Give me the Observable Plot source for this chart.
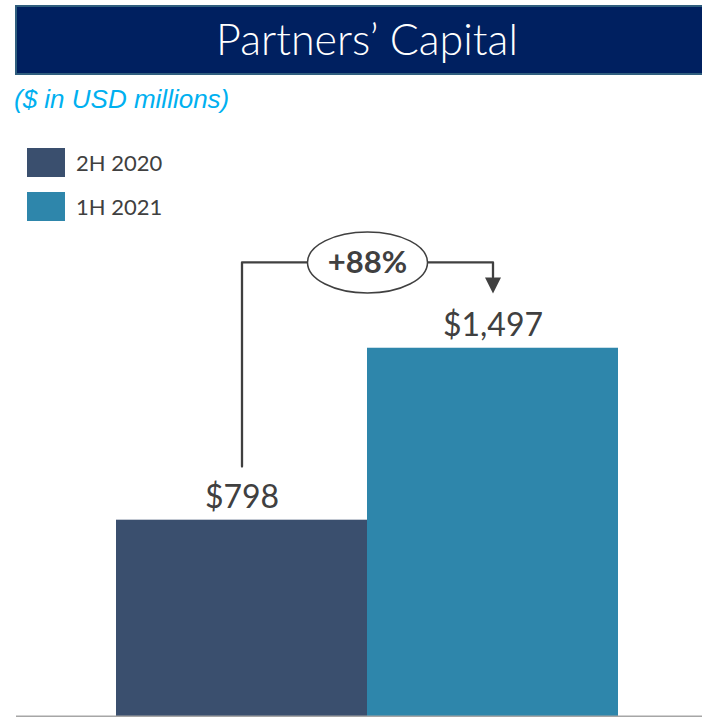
<!DOCTYPE html>
<html><head><meta charset="utf-8">
<script src="https://cdn.jsdelivr.net/npm/d3@7"></script>
<script src="https://cdn.jsdelivr.net/npm/@observablehq/plot@0.6"></script>
<style>
body{margin:0;background:#fff;}
#wrap{position:relative;width:702px;height:717px;overflow:hidden;font-family:Lato,"Open Sans",sans-serif;}
#chart{position:absolute;left:0;top:0;}
.title{position:absolute;left:15px;top:5px;width:704px;height:70px;background:#002060;border:2px solid #2F5E7E;box-sizing:border-box;color:#fff;font-size:43px;font-weight:300;display:flex;align-items:center;justify-content:center;padding-bottom:3px;}
.sub{position:absolute;left:14px;top:84px;font-family:"Liberation Sans Narrow","Liberation Sans",Arial,sans-serif;font-style:italic;font-size:26px;color:#00B0F0;}
.leg{position:absolute;left:27px;display:flex;align-items:center;font-size:22px;color:#404040;}
.leg span{display:inline-block;width:38px;height:29px;margin-right:11px;}
</style>
</head><body>
<div id="wrap">
  <div id="chart"></div>
  <div class="title">Partners’ Capital</div>
  <div class="sub">($ in USD millions)</div>
  <div id="legend"></div>
</div>
<script>
const categories = ["2H 2020", "1H 2021"];
const values = [798, 1497];
const colors = ["#3A4F6E", "#2E86AB"];
const yMax = 2000;

const data = categories.map((c, i) => ({cat: c, value: values[i], color: colors[i]}));
const fmt = v => "$" + d3.format(",")(v);
const growth = "+" + Math.round((values[1] / values[0] - 1) * 100) + "%";

// legend
const legend = document.getElementById("legend");
categories.forEach((c, i) => {
  const d = document.createElement("div");
  d.className = "leg";
  d.style.top = (148 + i * 44) + "px";
  d.innerHTML = `<span style="background:${colors[i]}"></span>${c}`;
  legend.appendChild(d);
});

// annotation levels derived from the data
const bracketY = d3.max(values) * 1.233;
const leftStart = values[0] + 0.109 * yMax;
const tipY = values[1] + 0.1115 * yMax;
const headBase = tipY + 0.033 * yMax;
const bracketPath = [
  {cat: categories[0], y: leftStart},
  {cat: categories[0], y: bracketY},
  {cat: categories[1], y: bracketY},
  {cat: categories[1], y: headBase}
];

const ellipseSymbol = {
  draw(ctx) {
    const rx = 60, ry = 30.5, k = 0.5523;
    ctx.moveTo(-rx, 0);
    ctx.bezierCurveTo(-rx, -ry * k, -rx * k, -ry, 0, -ry);
    ctx.bezierCurveTo(rx * k, -ry, rx, -ry * k, rx, 0);
    ctx.bezierCurveTo(rx, ry * k, rx * k, ry, 0, ry);
    ctx.bezierCurveTo(-rx * k, ry, -rx, ry * k, -rx, 0);
    ctx.closePath();
  }
};
const arrowSymbol = {
  draw(ctx) {
    ctx.moveTo(-8, -16);
    ctx.lineTo(8, -16);
    ctx.lineTo(0, 0);
    ctx.closePath();
  }
};

const chart = Plot.plot({
  width: 702,
  height: 717,
  marginLeft: 16,
  marginRight: 0,
  marginTop: 224,
  marginBottom: 1,
  style: {fontFamily: "Lato, 'Open Sans', sans-serif", background: "transparent"},
  x: {domain: categories, paddingInner: 0, paddingOuter: 0.3665, align: 0.5435, axis: null},
  y: {domain: [0, yMax], axis: null},
  marks: [
    Plot.barY(data, {x: "cat", y: "value", fill: d => d.color}),
    Plot.ruleY([0], {stroke: "#A6A6A6", strokeWidth: 2}),
    Plot.text(data, {x: "cat", y: "value", text: d => fmt(d.value), lineAnchor: "bottom", dy: -12, fontSize: 32, fill: "#404040"}),
    Plot.line(bracketPath, {x: "cat", y: "y", stroke: "#404040", strokeWidth: 2.3, curve: "linear"}),
    Plot.dot([{cat: categories[1], y: tipY}], {x: "cat", y: "y", symbol: arrowSymbol, fill: "#404040", stroke: "none", r: 5}),
    Plot.dot([{cat: categories[0], y: bracketY}], {x: "cat", y: "y", dx: 125.5, symbol: ellipseSymbol, fill: "white", stroke: "#404040", strokeWidth: 1.5, r: 5}),
    Plot.text([{cat: categories[0], y: bracketY}], {x: "cat", y: "y", dx: 125.5, dy: 1, text: () => growth, fontSize: 31, fontWeight: "bold", fill: "#404040"})
  ]
});
document.getElementById("chart").appendChild(chart);
</script>
</body></html>
